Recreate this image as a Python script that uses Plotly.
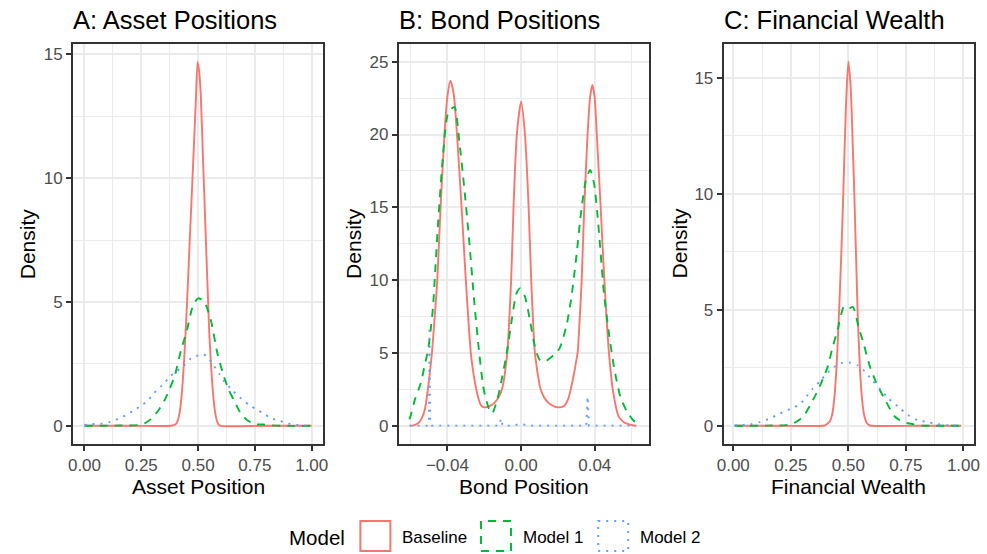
import plotly.graph_objects as go

W, H = 987, 554

# ---------------- labels ----------------
models = ["Baseline", "Model 1", "Model 2"]
colors = ["#F8766D", "#00BA38", "#619CFF"]
dashes = ["solid", "8px,7px", "2px,6px"]
panel_titles = ["A: Asset Positions", "B: Bond Positions", "C: Financial Wealth"]
x_titles = ["Asset Position", "Bond Position", "Financial Wealth"]
y_title = "Density"
legend_title = "Model"

# ---------------- tick labels ----------------
unit_ticks = [0.0, 0.25, 0.5, 0.75, 1.0]
unit_ticktext = ["0.00", "0.25", "0.50", "0.75", "1.00"]
unit_minor = [0.125, 0.375, 0.625, 0.875]
bond_ticks = [-0.04, 0.0, 0.04]
bond_ticktext = ["\u22120.04", "0.00", "0.04"]
bond_minor = [-0.06, -0.02, 0.02, 0.06]
dens15_ticks = [0, 5, 10, 15]
dens25_ticks = [0, 5, 10, 15, 20, 25]

# ---------------- A: Asset positions ----------------
asset_base_x = [0.00, 0.20, 0.38, 0.40, 0.41, 0.42, 0.43, 0.44, 0.4515, 0.46, 0.47, 0.48, 0.49, 0.4977,
                0.505, 0.512, 0.52, 0.53, 0.544, 0.55, 0.56, 0.57, 0.58, 0.59, 0.60, 0.80, 1.00]
asset_base_y = [0, 0, 0, 0.05, 0.2, 0.6, 1.5, 2.9, 5.0, 6.8, 8.9, 11.0, 13.1, 14.7,
                14.3, 13.3, 11.2, 8.6, 5.0, 3.6, 2.0, 0.9, 0.3, 0.05, 0, 0, 0]
asset_m1_x = [0.00, 0.15, 0.237, 0.265, 0.295, 0.325, 0.353, 0.375, 0.396, 0.425, 0.451, 0.476, 0.50,
              0.527, 0.556, 0.585, 0.614, 0.635, 0.657, 0.685, 0.715, 0.75, 0.787, 0.82, 0.87, 1.00]
asset_m1_y = [0, 0.01, 0.03, 0.1, 0.30, 0.62, 1.04, 1.5, 1.98, 3.06, 3.86, 4.81, 5.15,
              5.01, 4.27, 2.92, 1.98, 1.45, 1.04, 0.55, 0.23, 0.07, 0.05, 0.02, 0, 0]
asset_m2_x = [0.0, 0.035, 0.078, 0.114, 0.151, 0.182, 0.215, 0.252, 0.281, 0.305, 0.35, 0.375, 0.405,
              0.437, 0.462, 0.49, 0.524, 0.548, 0.57, 0.592, 0.614, 0.643, 0.689, 0.727, 0.758, 0.787,
              0.823, 0.859, 0.896, 0.932, 0.968, 1.0]
asset_m2_y = [0.03, 0.07, 0.09, 0.16, 0.30, 0.43, 0.61, 0.83, 1.04, 1.31, 1.71, 1.98, 2.2,
              2.42, 2.68, 2.81, 2.89, 2.70, 2.42, 2.11, 1.80, 1.51, 1.10, 0.83, 0.66, 0.50,
              0.30, 0.20, 0.09, 0.04, 0.01, 0.0]

# ---------------- B: Bond positions ----------------
bond_base_x = [-0.0605, -0.0585, -0.0559, -0.0540, -0.0523, -0.0505, -0.0484, -0.0470, -0.0455, -0.0437,
               -0.0416, -0.0400, -0.0384, -0.0366, -0.0348, -0.0323, -0.0300, -0.0273, -0.0260, -0.0245,
               -0.0230, -0.0215, -0.0200, -0.0180, -0.0155, -0.0130, -0.0112, -0.0100, -0.0090, -0.0082,
               -0.0075, -0.0054, -0.0041, -0.0023, 0.0,
               0.0021, 0.0041, 0.0055, 0.0075, 0.0083, 0.0092, 0.0102, 0.0115, 0.0135, 0.0160, 0.0185,
               0.0210, 0.0225, 0.0240, 0.0255, 0.0268, 0.0280, 0.0292, 0.0300, 0.0307, 0.0318, 0.0329,
               0.0343, 0.0361, 0.0375, 0.0387, 0.0399, 0.0411, 0.0432, 0.0452,
               0.0477, 0.0500, 0.0530, 0.0560, 0.0584, 0.0605, 0.0625]
bond_base_y = [0, 0.02, 0.16, 0.5, 1.08, 2.6, 5.0, 7.3, 10.0, 15.0,
               20.0, 22.6, 23.7, 22.8, 20.0, 15.0, 10.0, 5.0, 3.7, 2.6,
               1.8, 1.35, 1.26, 1.3, 1.45, 1.8, 2.2, 2.7, 3.4, 4.2,
               5.0, 10.0, 15.0, 20.0, 22.25,
               20.0, 15.0, 10.0, 5.0, 4.2, 3.4, 2.7, 2.2, 1.75, 1.45, 1.3,
               1.26, 1.3, 1.45, 1.8, 2.4, 3.1, 3.9, 4.5, 5.0, 7.3, 10.0,
               15.0, 20.0, 22.6, 23.4, 22.6, 20.0, 15.0, 10.0,
               5.0, 2.3, 0.62, 0.22, 0.11, 0.03, 0]
bond_m1_x = [-0.0607, -0.0603, -0.0577, -0.0545, -0.0523, -0.0505, -0.0491, -0.0478, -0.0465, -0.0450,
             -0.0423, -0.0396, -0.0362, -0.0336, -0.0309, -0.0282, -0.0255, -0.0229, -0.0202, -0.0175,
             -0.0157, -0.0130, -0.0102, -0.0075, -0.0048, -0.0025, -0.0005, 0.0021, 0.0048, 0.0075,
             0.0102, 0.0129, 0.0155, 0.0185, 0.0209, 0.0245, 0.0271, 0.0298, 0.0325, 0.0352, 0.0375,
             0.0396, 0.0414, 0.0432, 0.0450, 0.0477, 0.0504, 0.0539, 0.0575, 0.0611, 0.0622]
bond_m1_y = [0.45, 0.55, 1.77, 2.91, 4.17, 5.2, 6.57, 8.17, 10.9, 14.0,
             18.7, 21.45, 21.9, 19.6, 16.4, 12.75, 8.63, 5.2, 2.45, 1.19,
             0.85, 1.76, 3.37, 5.2, 7.49, 9.09, 9.43, 8.86, 7.26, 5.43,
             4.51, 4.40, 4.62, 4.95, 5.31, 6.8, 8.63, 11.38, 14.58, 16.87, 17.56,
             16.64, 14.58, 11.84, 9.09, 6.34, 4.05, 1.99, 0.96, 0.34, 0.25]
bond_m2_x = [-0.0605, -0.0510, -0.0500, -0.0497, -0.0494, -0.0485, -0.0118, -0.0109, -0.0100,
             -0.0040, -0.0010, 0.0010, 0.0040, 0.0354, 0.0361, 0.0368, 0.0625]
bond_m2_y = [0, 0, 0.2, 6.8, 0.2, 0, 0, 0.5, 0,
             0, 0.12, 0.1, 0, 0, 2.0, 0, 0]

# ---------------- C: Financial wealth ----------------
wealth_base_x = [0.006, 0.20, 0.39, 0.40, 0.41, 0.42, 0.43, 0.44, 0.45, 0.46, 0.47, 0.478, 0.49, 0.50,
                 0.51, 0.52, 0.526, 0.54, 0.55, 0.56, 0.57, 0.58, 0.59, 0.60, 0.80, 0.99]
wealth_base_y = [0, 0, 0, 0.03, 0.1, 0.2, 0.5, 1.3, 2.8, 5.0, 7.6, 10.0, 13.9, 15.7,
                 14.6, 11.8, 10.0, 5.0, 2.5, 1.1, 0.4, 0.12, 0.03, 0, 0, 0]
wealth_m1_x = [0.006, 0.15, 0.23, 0.26, 0.303, 0.346, 0.381, 0.410, 0.432, 0.453, 0.481, 0.50, 0.52,
               0.544, 0.566, 0.594, 0.623, 0.66, 0.703, 0.746, 0.765, 0.82, 0.90, 0.99]
wealth_m1_y = [0, 0.01, 0.03, 0.1, 0.39, 1.11, 1.82, 2.54, 3.40, 4.12, 5.13, 5.05, 5.12,
               4.27, 3.55, 2.54, 1.82, 1.11, 0.39, 0.13, 0.1, 0.01, 0, 0]
wealth_m2_x = [0.006, 0.074, 0.117, 0.16, 0.203, 0.253, 0.289, 0.317, 0.346, 0.381, 0.41, 0.439, 0.467,
               0.503, 0.539, 0.566, 0.603, 0.639, 0.674, 0.717, 0.76, 0.803, 0.846, 0.889, 0.931, 0.99]
wealth_m2_y = [0.02, 0.07, 0.17, 0.32, 0.53, 0.75, 0.93, 1.25, 1.61, 1.97, 2.3, 2.54, 2.69,
               2.73, 2.61, 2.40, 1.97, 1.57, 1.18, 0.82, 0.46, 0.24, 0.16, 0.07, 0.03, 0.0]

panels = [
    [(asset_base_x, asset_base_y), (asset_m1_x, asset_m1_y), (asset_m2_x, asset_m2_y)],
    [(bond_base_x, bond_base_y), (bond_m1_x, bond_m1_y), (bond_m2_x, bond_m2_y)],
    [(wealth_base_x, wealth_base_y), (wealth_m1_x, wealth_m1_y), (wealth_m2_x, wealth_m2_y)],
]

# ---------------- layout geometry (pixels) ----------------
px_x = [(67.0, 320.3), (397.0, 650.3), (726.3, 979.7)]
px_y = (43.7, 444.0)
x_ranges = [[-0.05, 1.05], [-0.0664, 0.0693], [-0.0414, 1.045]]
y_ranges = [[-0.735, 15.435], [-1.26, 26.24], [-0.784, 16.47]]
x_tick_sets = [(unit_ticks, unit_ticktext, unit_minor), (bond_ticks, bond_ticktext, bond_minor),
               (unit_ticks, unit_ticktext, unit_minor)]
y_tick_sets = [dens15_ticks, dens25_ticks, dens15_ticks]


def fx(p):
    return p / W


def fy(p):
    return 1 - p / H


FONT = "Liberation Sans, Arial, Helvetica, sans-serif"

fig = go.Figure()

for i, panel in enumerate(panels):
    ax = "" if i == 0 else str(i + 1)
    for j, (xs, ys) in enumerate(panel):
        shape = "linear" if (i == 1 and j == 2) else "spline"
        fig.add_trace(go.Scatter(
            x=xs, y=ys, mode="lines", name=models[j], showlegend=False,
            line=dict(color=colors[j], width=1.9, dash=dashes[j], shape=shape, smoothing=0.7),
            xaxis="x" + ax, yaxis="y" + ax, hoverinfo="skip"))

axis_common = dict(
    showline=True, mirror=True, linecolor="#333333", linewidth=2,
    ticks="outside", ticklen=5, tickwidth=2, tickcolor="#333333",
    showgrid=True, gridcolor="#EBEBEB", gridwidth=2, zeroline=False,
    tickfont=dict(size=17, color="#4D4D4D", family=FONT),
)

layout = dict(
    width=W, height=H, margin=dict(l=0, r=0, t=0, b=0),
    paper_bgcolor="white", plot_bgcolor="white",
    font=dict(family=FONT, color="black"),
    showlegend=False,
)

annotations = []
shapes = []
for i in range(3):
    ax = "" if i == 0 else str(i + 1)
    xt, xtt, xm = x_tick_sets[i]
    yt = y_tick_sets[i]
    ym = [v + 2.5 for v in yt]
    layout["xaxis" + ax] = dict(
        axis_common, domain=[fx(px_x[i][0]), fx(px_x[i][1])], range=x_ranges[i],
        anchor="y" + ax, tickmode="array", tickvals=xt, ticktext=xtt,
        minor=dict(tickmode="array", tickvals=xm, showgrid=True, gridcolor="#EBEBEB", gridwidth=1, ticks=""))
    layout["yaxis" + ax] = dict(
        axis_common, domain=[fy(px_y[1]), fy(px_y[0])], range=y_ranges[i],
        anchor="x" + ax, tickmode="array", tickvals=yt, ticktext=[str(v) for v in yt],
        minor=dict(tickmode="array", tickvals=ym, showgrid=True, gridcolor="#EBEBEB", gridwidth=1, ticks=""))
    # panel title
    annotations.append(dict(text=panel_titles[i], x=fx(px_x[i][0] - 2), y=fy(19.5), xref="paper", yref="paper",
                            xanchor="left", yanchor="middle", showarrow=False,
                            font=dict(size=25.5, color="black", family=FONT)))
    # x title
    cx = (px_x[i][0] + px_x[i][1]) / 2
    annotations.append(dict(text=x_titles[i], x=fx(cx), y=fy(487), xref="paper", yref="paper",
                            xanchor="center", yanchor="middle", showarrow=False,
                            font=dict(size=21, color="black", family=FONT)))
    # y title
    ylab_x = [21, 351, 681][i]
    annotations.append(dict(text=y_title, x=fx(ylab_x), y=fy(243.5), xref="paper", yref="paper",
                            xanchor="center", yanchor="middle", textangle=-90, showarrow=False,
                            font=dict(size=21, color="black", family=FONT)))

# legend (drawn manually to reproduce ggplot's outlined key boxes)
annotations.append(dict(text=legend_title, x=fx(284), y=fy(537.5), xref="paper", yref="paper",
                        xanchor="left", yanchor="middle", showarrow=False,
                        font=dict(size=20.5, color="black", family=FONT)))
key_centers = [373.3, 495.5, 614.3]
label_left = [398, 521.3, 639.7]
for j in range(3):
    c = key_centers[j]
    shapes.append(dict(type="rect", xref="paper", yref="paper",
                       x0=fx(c - 15.2), x1=fx(c + 15.2), y0=fy(551), y1=fy(521),
                       line=dict(color=colors[j], width=2, dash=dashes[j]), fillcolor="rgba(0,0,0,0)"))
    annotations.append(dict(text=models[j], x=fx(label_left[j]), y=fy(537.5), xref="paper", yref="paper",
                            xanchor="left", yanchor="middle", showarrow=False,
                            font=dict(size=17, color="black", family=FONT)))

layout["annotations"] = annotations
layout["shapes"] = shapes
fig.update_layout(**layout)

fig.write_html("out.html")
